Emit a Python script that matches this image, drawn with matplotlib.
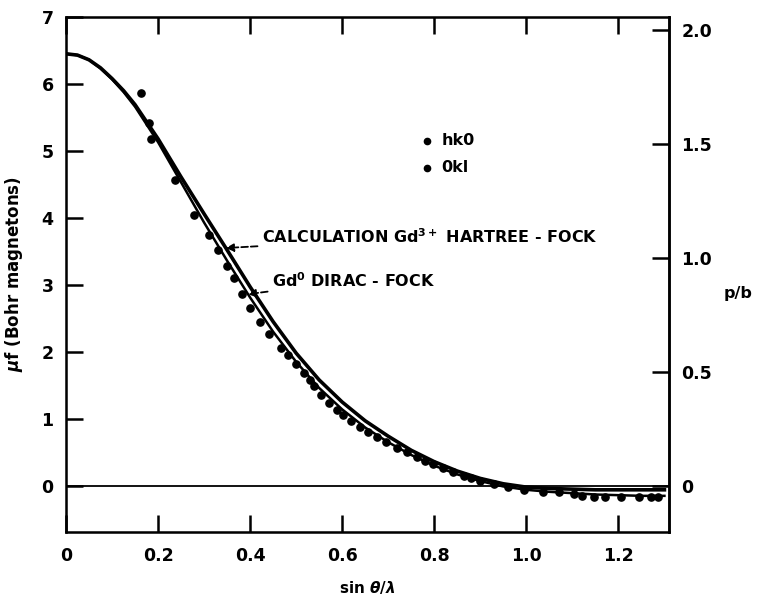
import numpy as np
import matplotlib
matplotlib.use('Agg')
import matplotlib.pyplot as plt

plt.rcParams['font.family'] = ['DejaVu Sans']
plt.rcParams['font.weight'] = 'bold'

# theory curves
x_curve = [0.00, 0.025, 0.05, 0.075, 0.10, 0.125, 0.15, 0.20, 0.25, 0.30, 0.35, 0.40, 0.45, 0.50,
           0.55, 0.60, 0.65, 0.70, 0.75, 0.80, 0.85, 0.90, 0.95, 1.00, 1.05, 1.10, 1.15, 1.20,
           1.25, 1.30]
hartree_fock = [6.45, 6.43, 6.36, 6.24, 6.08, 5.90, 5.69, 5.18, 4.61, 4.06, 3.52, 2.97, 2.45, 1.98,
                1.58, 1.25, 0.97, 0.74, 0.53, 0.36, 0.22, 0.11, 0.03, -0.02, -0.04, -0.05, -0.06,
                -0.06, -0.06, -0.06]
dirac_fock = [6.45, 6.43, 6.36, 6.23, 6.07, 5.88, 5.66, 5.13, 4.53, 3.93, 3.36, 2.81, 2.30, 1.85,
              1.46, 1.14, 0.87, 0.65, 0.46, 0.30, 0.17, 0.07, -0.01, -0.06, -0.09, -0.11, -0.13,
              -0.14, -0.15, -0.15]

# measured points
x_meas = [0.163, 0.18, 0.185, 0.236, 0.278, 0.31, 0.33, 0.35, 0.365, 0.383, 0.40, 0.421, 0.44,
          0.466, 0.483, 0.50, 0.517, 0.53, 0.539, 0.555, 0.572, 0.588, 0.601, 0.62, 0.638, 0.655,
          0.675, 0.695, 0.719, 0.74, 0.763, 0.78, 0.798, 0.82, 0.84, 0.865, 0.88, 0.90, 0.93,
          0.96, 0.995, 1.036, 1.07, 1.103, 1.12, 1.147, 1.17, 1.206, 1.245, 1.27, 1.285]
y_meas = [5.86, 5.42, 5.18, 4.56, 4.05, 3.74, 3.52, 3.28, 3.10, 2.86, 2.66, 2.45, 2.26,
          2.06, 1.95, 1.82, 1.68, 1.58, 1.49, 1.36, 1.24, 1.13, 1.05, 0.96, 0.88, 0.80,
          0.73, 0.65, 0.57, 0.50, 0.43, 0.37, 0.32, 0.26, 0.21, 0.15, 0.11, 0.07, 0.02,
          -0.02, -0.06, -0.09, -0.10, -0.13, -0.15, -0.17, -0.17, -0.17, -0.16, -0.17, -0.17]

x_ticks = [0, 0.2, 0.4, 0.6, 0.8, 1.0, 1.2]
x_ticklabels = ['0', '0.2', '0.4', '0.6', '0.8', '1.0', '1.2']
y_ticks = [0, 1, 2, 3, 4, 5, 6, 7]
pb_ticks = [0, 0.5, 1.0, 1.5, 2.0]
pb_ticklabels = ['0', '0.5', '1.0', '1.5', '2.0']
pb_per_mu = 0.294  # p/b = 0.294 * mu f

fig = plt.figure(figsize=(7.57, 6.01), dpi=100)
ax = fig.add_axes([0.0872, 0.1148, 0.7966, 0.857])

ax.axhline(0, color='black', lw=1.3)
ax.plot(x_curve, hartree_fock, color='black', lw=2.6)
ax.plot(x_curve, dirac_fock, color='black', lw=1.8)
ax.plot(x_meas, y_meas, 'o', color='black', ms=5.2)

ax.set_xlim(0, 1.31)
ax.set_ylim(-0.69, 7)
ax.set_xticks(x_ticks)
ax.set_xticklabels(x_ticklabels)
ax.set_yticks(y_ticks)
ax.tick_params(axis='both', direction='in', length=12, width=1.8, labelsize=12.5, pad=9)
ax.tick_params(axis='x', top=True, pad=11)
for s in ax.spines.values():
    s.set_linewidth(1.8)

ax.set_xlabel(r'sin $\theta$/$\lambda$', fontsize=11, fontweight='bold', labelpad=10)
ax.set_ylabel(r'$\mu$f (Bohr magnetons)', fontsize=12, fontweight='bold', labelpad=12)

# right axis p/b
ax2 = ax.twinx()
ax2.set_ylim(-0.69 * pb_per_mu, 7 * pb_per_mu)
ax2.set_yticks(pb_ticks)
ax2.set_yticklabels(pb_ticklabels)
ax2.tick_params(axis='y', direction='in', length=12, width=1.8, labelsize=12.5, pad=9)
ax2.spines['right'].set_linewidth(1.8)
fig.text(0.975, 0.512, 'p/b', fontsize=11.5, fontweight='bold', ha='center', va='center')

# legend for points
ax.plot([0.785], [5.15], 'o', color='black', ms=4.5)
ax.text(0.815, 5.15, 'hk0', fontsize=11.5, va='center')
ax.plot([0.785], [4.75], 'o', color='black', ms=4.5)
ax.text(0.815, 4.75, '0kl', fontsize=11.5, va='center')

# curve labels
ax.annotate(r'CALCULATION Gd$^{\mathbf{3+}}$ HARTREE - FOCK', xy=(0.347, 3.55), xytext=(0.425, 3.72),
            fontsize=11.5, va='center',
            arrowprops=dict(arrowstyle='-|>', color='black', lw=1.3, ls='--', shrinkA=1, shrinkB=0))
ax.annotate(r'Gd$^{\mathbf{0}}$ DIRAC - FOCK', xy=(0.395, 2.86), xytext=(0.447, 3.07),
            fontsize=11.5, va='center',
            arrowprops=dict(arrowstyle='-|>', color='black', lw=1.3, ls='--', shrinkA=1, shrinkB=0))

fig.savefig('out.png', dpi=100)
